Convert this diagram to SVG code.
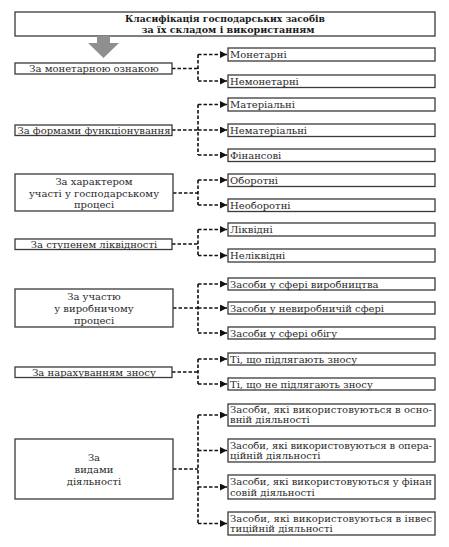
<svg xmlns="http://www.w3.org/2000/svg" width="449" height="547" viewBox="0 0 449 547">
<style>
.bx{fill:#fff;stroke:#3a3a3a;stroke-width:1.3}
.t{font-family:"DejaVu Serif","Liberation Serif",serif;font-size:10px;fill:#2a2a2a}
.c{text-anchor:middle}
.ti{font-family:"DejaVu Serif","Liberation Serif",serif;font-size:10px;font-weight:bold;fill:#1a1a1a;text-anchor:middle}
.cn{fill:none;stroke:#111;stroke-width:1.6;stroke-dasharray:3.5 2}
.ar{marker-end:url(#ah)}
</style>
<defs>
<marker id="ah" markerUnits="userSpaceOnUse" markerWidth="8" markerHeight="8" refX="7" refY="3.5" orient="auto">
<path d="M0,0 L7,3.5 L0,7 Z" fill="#111"/>
</marker>
</defs>
<rect width="449" height="547" fill="#fff"/>
<g id="title">
<rect class="bx" x="15" y="12" width="420" height="24"/>
<text class="ti" x="225" y="22" textLength="200" lengthAdjust="spacingAndGlyphs">Класифікація господарських засобів</text>
<text class="ti" x="228" y="33" textLength="173" lengthAdjust="spacingAndGlyphs">за їх складом і використанням</text>
</g>
<g id="bigarrow">
<path d="M97,36 H110 V43 H119 L103.5,58 L88,43 H97 Z" fill="#8f8f8f"/>
</g>
<g id="connectors">
<path class="cn" d="M172,68.5 H198 M198,54.5 V81"/>
<path class="cn ar" d="M198,54.5 H227"/>
<path class="cn ar" d="M198,81 H227"/>
<path class="cn" d="M172,130 H198 M198,104.5 V155"/>
<path class="cn ar" d="M198,104.5 H227"/>
<path class="cn ar" d="M198,130 H227"/>
<path class="cn ar" d="M198,155 H227"/>
<path class="cn" d="M173,193 H198 M198,180 V205"/>
<path class="cn ar" d="M198,180 H227"/>
<path class="cn ar" d="M198,205 H227"/>
<path class="cn" d="M172,244 H198 M198,229.5 V255.5"/>
<path class="cn ar" d="M198,229.5 H227"/>
<path class="cn ar" d="M198,255.5 H227"/>
<path class="cn" d="M173,308 H198 M198,284 V333"/>
<path class="cn ar" d="M198,284 H227"/>
<path class="cn ar" d="M198,308 H227"/>
<path class="cn ar" d="M198,333 H227"/>
<path class="cn" d="M172,372 H198 M198,359 V384"/>
<path class="cn ar" d="M198,359 H227"/>
<path class="cn ar" d="M198,384 H227"/>
<path class="cn" d="M173,469 H198 M198,415 V523.5"/>
<path class="cn ar" d="M198,415 H227"/>
<path class="cn ar" d="M198,450.5 H227"/>
<path class="cn ar" d="M198,487 H227"/>
<path class="cn ar" d="M198,523.5 H227"/>
</g>
<g id="left-monetary"><rect class="bx" x="15" y="63" width="157" height="11"/><text class="t c" x="94" y="72">За монетарною ознакою</text></g>
<g id="left-forms"><rect class="bx" x="15" y="125" width="157" height="10.5"/><text class="t c" x="94" y="134">За формами функціонування</text></g>
<g id="left-character"><rect class="bx" x="15" y="174" width="158" height="37"/><text class="t c" x="94" y="185">За характером</text><text class="t c" x="94" y="197">участі у господарському</text><text class="t c" x="94" y="208">процесі</text></g>
<g id="left-liquidity"><rect class="bx" x="15" y="239" width="157" height="10.5"/><text class="t c" x="94" y="248">За ступенем ліквідності</text></g>
<g id="left-production"><rect class="bx" x="15" y="289" width="158" height="38"/><text class="t c" x="94" y="300">За участю</text><text class="t c" x="94" y="312">у виробничому</text><text class="t c" x="94" y="324">процесі</text></g>
<g id="left-depreciation"><rect class="bx" x="15" y="367" width="157" height="10.5"/><text class="t c" x="94" y="376">За нарахуванням зносу</text></g>
<g id="left-activity"><rect class="bx" x="15" y="439" width="158" height="60"/><text class="t c" x="94" y="461">За</text><text class="t c" x="94" y="473">видами</text><text class="t c" x="94" y="485">діяльності</text></g>
<g id="r-monetary"><rect class="bx" x="228" y="48" width="207" height="13"/><text class="t" x="230" y="58">Монетарні</text></g>
<g id="r-nonmonetary"><rect class="bx" x="228" y="75" width="207" height="12.5"/><text class="t" x="230" y="85">Немонетарні</text></g>
<g id="r-material"><rect class="bx" x="228" y="98" width="207" height="13"/><text class="t" x="230" y="108">Матеріальні</text></g>
<g id="r-nonmaterial"><rect class="bx" x="228" y="124" width="207" height="12.5"/><text class="t" x="230" y="134">Нематеріальні</text></g>
<g id="r-financial"><rect class="bx" x="228" y="149" width="207" height="12.5"/><text class="t" x="230" y="159">Фінансові</text></g>
<g id="r-current"><rect class="bx" x="228" y="174" width="207" height="12.5"/><text class="t" x="230" y="184">Оборотні</text></g>
<g id="r-noncurrent"><rect class="bx" x="228" y="199" width="207" height="12.5"/><text class="t" x="230" y="209">Необоротні</text></g>
<g id="r-liquid"><rect class="bx" x="228" y="223" width="207" height="13"/><text class="t" x="230" y="233">Ліквідні</text></g>
<g id="r-illiquid"><rect class="bx" x="228" y="249" width="207" height="13"/><text class="t" x="230" y="259">Неліквідні</text></g>
<g id="r-prod"><rect class="bx" x="228" y="278" width="207" height="12"/><text class="t" x="230" y="287.5">Засоби у сфері виробництва</text></g>
<g id="r-nonprod"><rect class="bx" x="228" y="302" width="207" height="12"/><text class="t" x="230" y="311.5">Засоби у невиробничій сфері</text></g>
<g id="r-circ"><rect class="bx" x="228" y="327" width="207" height="12"/><text class="t" x="230" y="336.5">Засоби у сфері обігу</text></g>
<g id="r-dep"><rect class="bx" x="228" y="353" width="207" height="12"/><text class="t" x="230" y="362.5">Ті, що підлягають зносу</text></g>
<g id="r-nodep"><rect class="bx" x="228" y="378" width="207" height="12"/><text class="t" x="230" y="387.5">Ті, що не підлягають зносу</text></g>
<g id="r-main"><rect class="bx" x="228" y="404" width="207" height="22"/><text class="t" x="230" y="413" textLength="202" lengthAdjust="spacing">Засоби, які використовуються в осно-</text><text class="t" x="230" y="423">вній діяльності</text></g>
<g id="r-oper"><rect class="bx" x="228" y="439" width="207" height="23"/><text class="t" x="230" y="448.5" textLength="202" lengthAdjust="spacing">Засоби, які використовуються в опера-</text><text class="t" x="230" y="459">ційній діяльності</text></g>
<g id="r-fin"><rect class="bx" x="228" y="475" width="207" height="24"/><text class="t" x="230" y="485" textLength="202" lengthAdjust="spacing">Засоби, які використовуються у фінан</text><text class="t" x="230" y="495.5">совій діяльності</text></g>
<g id="r-inv"><rect class="bx" x="228" y="512" width="207" height="23"/><text class="t" x="230" y="521.5" textLength="202" lengthAdjust="spacing">Засоби, які використовуються в інвес</text><text class="t" x="230" y="532">тиційній діяльності</text></g>
</svg>
